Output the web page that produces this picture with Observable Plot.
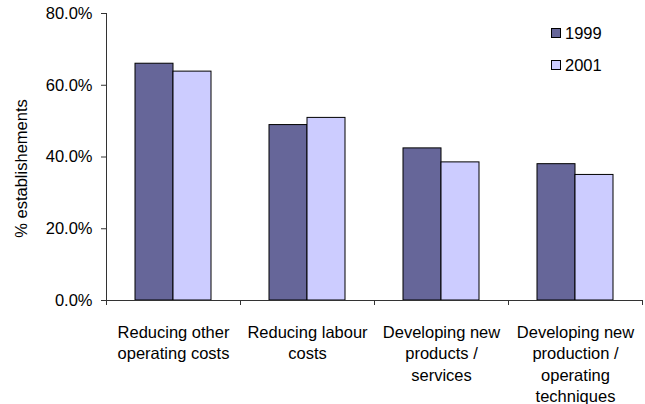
<!DOCTYPE html>
<html>
<head>
<meta charset="utf-8">
<script src="https://cdn.jsdelivr.net/npm/d3@7"></script>
<script src="https://cdn.jsdelivr.net/npm/@observablehq/plot@0.6"></script>
<style>
  html, body { margin: 0; padding: 0; background: white; }
  #chart { position: relative; width: 645px; height: 404px; }
</style>
</head>
<body>
<div id="chart"></div>
<script>
const categories = [
  "Reducing other operating costs",
  "Reducing labour costs",
  "Developing new products / services",
  "Developing new production / operating techniques"
];
const categoryLabels = [
  "Reducing other\noperating costs",
  "Reducing labour\ncosts",
  "Developing new\nproducts /\nservices",
  "Developing new\nproduction /\noperating\ntechniques"
];
const years = ["1999", "2001"];
const values1999 = [0.660, 0.489, 0.424, 0.380];
const values2001 = [0.638, 0.509, 0.385, 0.350];
const yTicks = [0, 0.2, 0.4, 0.6, 0.8];
const yLabel = "% establishements";
const colors = ["#666699", "#CCCCFF"];

const data = [];
categories.forEach((c, i) => {
  data.push({category: c, year: years[0], value: values1999[i]});
  data.push({category: c, year: years[1], value: values2001[i]});
});
const labelOf = new Map(categories.map((c, i) => [c, categoryLabels[i]]));

const font = "'Liberation Sans', Arial, sans-serif";
const fontSize = "16.5px";
const axisColor = "#333";

const plot = Plot.plot({
  width: 645,
  height: 404,
  marginLeft: 106,
  marginRight: 3,
  marginTop: 13,
  marginBottom: 104,
  style: {fontFamily: font, fontSize: fontSize, background: "white", color: "black"},
  fx: {domain: categories, padding: 0, label: null},
  x: {domain: years, paddingInner: 0, paddingOuter: 0.72, axis: null},
  y: {domain: [0, 0.8]},
  color: {domain: years, range: colors},
  marks: [
    Plot.barY(data, {fx: "category", x: "year", y: "value", fill: "year", stroke: "black", strokeWidth: 1}),
    Plot.ruleY([0], {stroke: axisColor}),
    Plot.axisY({
      ticks: yTicks, tickFormat: ".1%", tickSize: 5, tickPadding: 9,
      stroke: axisColor, fill: "black", label: null
    }),
    Plot.axisFx({
      anchor: "bottom", tickSize: 0, tickPadding: 22, label: null,
      tickFormat: d => labelOf.get(d), lineHeight: 1.3, fill: "black"
    })
  ]
});

document.getElementById("chart").appendChild(plot);

// Axis decorations drawn from the plot's own scales
const svg = d3.select(plot);
const fx = plot.scale("fx");
const y = plot.scale("y");
const y0 = y.apply(0), yTop = y.apply(0.8);
const xLeft = fx.apply(categories[0]);
const bw = fx.bandwidth;
const g = svg.append("g").attr("stroke", axisColor).attr("stroke-width", 1);
g.append("line").attr("x1", xLeft + 0.5).attr("x2", xLeft + 0.5).attr("y1", yTop).attr("y2", y0);
const bounds = categories.map(c => fx.apply(c)).concat([fx.apply(categories[categories.length - 1]) + bw]);
bounds.forEach(bx => {
  g.append("line").attr("x1", bx + 0.5).attr("x2", bx + 0.5).attr("y1", y0).attr("y2", y0 + 5);
});

// Y axis title
svg.append("text")
  .attr("transform", `translate(21,${(y0 + yTop) / 2 + 12}) rotate(-90)`)
  .attr("text-anchor", "middle").attr("dy", "0.35em")
  .attr("font-family", font).attr("font-size", fontSize).attr("fill", "black")
  .text(yLabel);

// Legend
const color = plot.scale("color");
const lg = svg.append("g").attr("font-family", font).attr("font-size", fontSize).attr("text-anchor", "start");
years.forEach((yr, i) => {
  const ly = 28 + i * 32;
  lg.append("rect").attr("x", 551.5).attr("y", ly + 0.5).attr("width", 9).attr("height", 9)
    .attr("fill", color.apply(yr)).attr("stroke", "black");
  lg.append("text").attr("x", 565).attr("y", ly + 5).attr("dy", "0.35em").attr("fill", "black").text(yr);
});
</script>
</body>
</html>
